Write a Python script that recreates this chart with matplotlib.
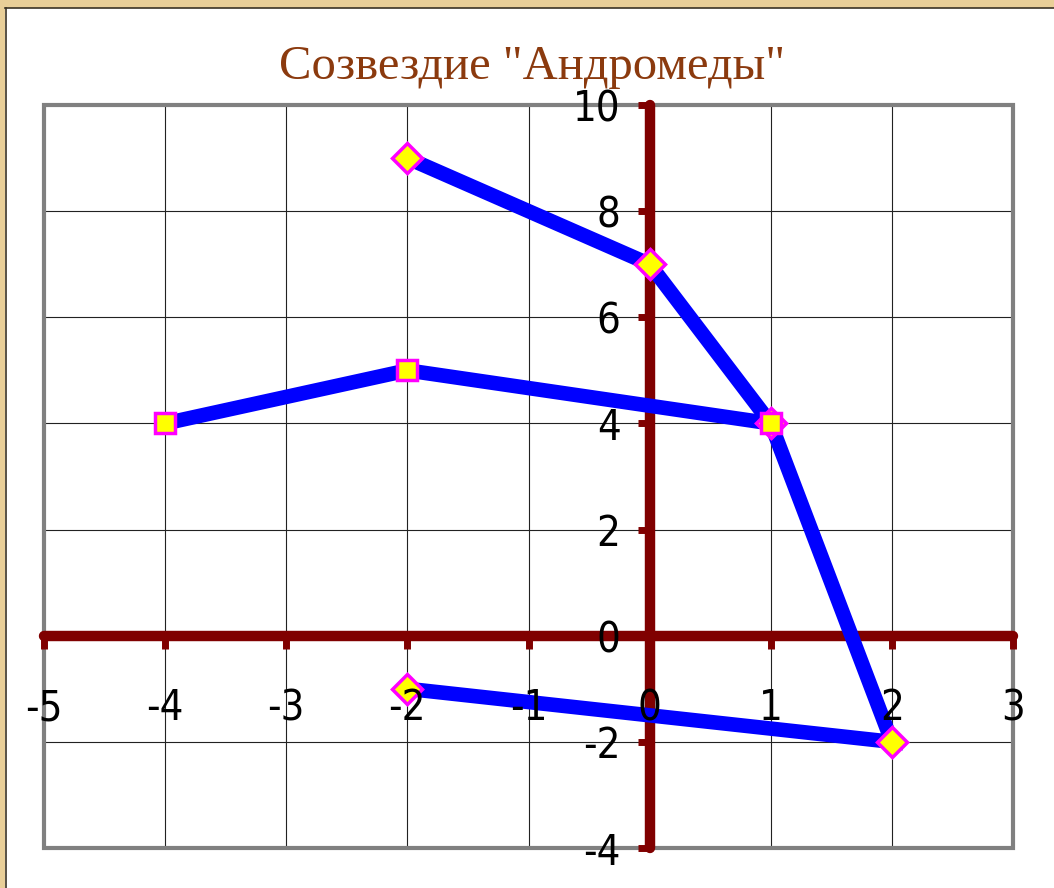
import matplotlib
matplotlib.use("Agg")
import matplotlib.pyplot as plt
from matplotlib.patches import Rectangle

# Data
title = 'Созвездие "Андромеды"'
diamond_x = [-2, 0, 1, 2, -2]
diamond_y = [9, 7, 4, -2, -1]
square_x = [-4, -2, 1]
square_y = [4, 5, 4]
x_ticks = [-5, -4, -3, -2, -1, 0, 1, 2, 3]
y_ticks = [-4, -2, 0, 2, 4, 6, 8, 10]

W, H = 1054, 888
fig = plt.figure(figsize=(W / 100, H / 100), dpi=100)
fig.patch.set_facecolor("white")

# tan frame on top and left
tan = "#E9CF98"
fig.add_artist(Rectangle((0, 1 - 8 / H), 1, 8 / H, transform=fig.transFigure,
                         facecolor=tan, edgecolor="none", zorder=0))
fig.add_artist(Rectangle((0, 0), 5 / W, 1, transform=fig.transFigure,
                         facecolor=tan, edgecolor="none", zorder=0))
fig.add_artist(plt.Line2D([5 / W, 1], [1 - 8.5 / H, 1 - 8.5 / H], transform=fig.transFigure,
                          color="#3b3325", lw=1.2))
fig.add_artist(plt.Line2D([5.5 / W, 5.5 / W], [0, 1 - 8.5 / H], transform=fig.transFigure,
                          color="#3b3325", lw=1.2))

ax = fig.add_axes([44 / W, 40 / H, 969 / W, 743 / H])
ax.set_facecolor("white")
ax.set_xlim(-5, 3)
ax.set_ylim(-4, 10)

# grid (drawn manually so tick labels can sit above the series)
ax.set_xticks(x_ticks)
ax.set_yticks(y_ticks)
ax.grid(False)
for v in x_ticks:
    ax.axvline(v, color="#222222", lw=0.8, zorder=0.5)
for v in y_ticks:
    ax.axhline(v, color="#222222", lw=0.8, zorder=0.5)

# border
ax.add_patch(Rectangle((0, 0), 1, 1, transform=ax.transAxes, facecolor="none",
                       edgecolor="#808080", lw=3, zorder=1, clip_on=False))

maroon = "#800000"
for s in ["top", "right"]:
    ax.spines[s].set_visible(False)
for s in ["left", "bottom"]:
    sp = ax.spines[s]
    sp.set_position(("data", 0))
    sp.set_color(maroon)
    sp.set_linewidth(7.5)
    sp.set_capstyle("round")
    sp.set_zorder(2)

tick_font = dict(family=["DejaVu Sans"], stretch="condensed", size=30)
ax.tick_params(axis="x", direction="out", length=9, width=5, color=maroon, pad=28)
ax.tick_params(axis="y", direction="out", length=9, width=5, color=maroon, pad=12)
ax.set_xticklabels([str(v) for v in x_ticks], **tick_font)
ax.set_yticklabels([str(v) for v in y_ticks], **tick_font)
ax.xaxis.set_zorder(5)
ax.yaxis.set_zorder(5)

# series
ax.plot(diamond_x, diamond_y, color="#0000FF", lw=10.5, zorder=3,
        solid_capstyle="butt", solid_joinstyle="miter")
ax.plot(square_x, square_y, color="#0000FF", lw=10.5, zorder=3,
        solid_capstyle="butt", solid_joinstyle="miter")
ax.plot(diamond_x, diamond_y, ls="none", marker="D", ms=15, mfc="#FFFF00",
        mec="#FF00FF", mew=2.5, zorder=4, clip_on=False)
ax.plot(square_x, square_y, ls="none", marker="s", ms=15, mfc="#FFFF00",
        mec="#FF00FF", mew=2.5, zorder=4, clip_on=False)

fig.text(532 / W, 1 - 67 / H, title, ha="center", va="center", color="#8B3A0E",
         family=["Liberation Serif", "DejaVu Serif"], size=35)

fig.savefig("out.png", dpi=100, facecolor=fig.get_facecolor())
